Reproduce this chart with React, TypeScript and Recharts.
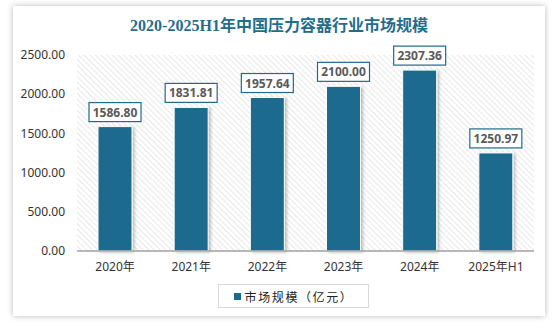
import { Bar, BarChart, CartesianGrid, LabelList, XAxis, YAxis } from "recharts";

const categories = ["2020年", "2021年", "2022年", "2023年", "2024年", "2025年H1"];
const marketSize = [1586.8, 1831.81, 1957.64, 2100.0, 2307.36, 1250.97];
const yTicks = [0, 500, 1000, 1500, 2000, 2500];

const title = "2020-2025H1年中国压力容器行业市场规模";
const seriesName = "市场规模（亿元）";

const BAR_COLOR = "#1c6a8d";
const FONT = "'Noto Sans', 'Noto Sans CJK SC', sans-serif";

const chartData = categories.map((name, i) => ({ name, value: marketSize[i] }));

const ValueLabel = (props: any) => {
    const { x, y, width, value } = props;
    const cx = Number(x) + Number(width) / 2;
    const boxW = 52;
    const boxH = 19;
    const top = Number(y) - 5 - boxH;
    return (
        <g>
            <rect x={cx - boxW / 2} y={top} width={boxW} height={boxH} fill="#fff" stroke="#1f6b8a" strokeWidth={1.2} />
            <text x={cx} y={top + boxH / 2 + 4.5} textAnchor="middle" fill="#595959" fontSize={12} fontWeight={700} fontFamily={FONT}>
                {Number(value).toFixed(2)}
            </text>
        </g>
    );
};

export default function App() {
    return (
        <div style={{ position: "absolute", left: 0, top: 0, width: 558, height: 332, background: "#fff", fontFamily: FONT }}>
            <div
                style={{
                    position: "absolute",
                    left: 13,
                    top: 6,
                    width: 532,
                    height: 310,
                    background: "#fff",
                    boxShadow: "0 0 6px rgba(0,0,0,0.28)",
                }}
            />
            <div
                style={{
                    position: "absolute",
                    left: 13,
                    top: 12,
                    width: 532,
                    textAlign: "center",
                    color: "#1f6e8c",
                    fontSize: 16,
                    fontWeight: 700,
                    fontFamily: "'Liberation Serif', 'Noto Sans CJK SC', serif",
                }}
            >
                {title}
            </div>
            <div style={{ position: "absolute", left: 0, top: 0 }}>
                <BarChart width={558} height={332} data={chartData} margin={{ top: 55, right: 24, left: 0, bottom: 51 }} barCategoryGap="0%">
                    <defs>
                        <pattern id="hatch" width="4" height="4" patternUnits="userSpaceOnUse" patternTransform="rotate(-45)">
                            <rect width="4" height="4" fill="#ffffff" />
                            <line x1="0" y1="0" x2="0" y2="4" stroke="#d9d9d9" strokeWidth={1.2} />
                        </pattern>
                        <filter id="barShadow" x="-20%" y="-20%" width="150%" height="140%">
                            <feDropShadow dx="2" dy="1" stdDeviation="1.5" floodColor="#000" floodOpacity="0.25" />
                        </filter>
                    </defs>
                    <CartesianGrid fill="url(#hatch)" horizontal={false} vertical={false} stroke="none" />
                    <XAxis
                        dataKey="name"
                        axisLine={{ stroke: "#a0a0a0", strokeWidth: 1.5 }}
                        tickLine={false}
                        tickMargin={5}
                        height={30}
                        interval={0}
                        tick={{ fill: "#333", fontSize: 12, fontFamily: FONT }}
                    />
                    <YAxis
                        domain={[0, 2500]}
                        ticks={yTicks}
                        width={77}
                        axisLine={false}
                        tickLine={false}
                        tickMargin={6}
                        tick={{ fill: "#333", fontSize: 12, fontFamily: FONT }}
                        tickFormatter={(v) => Number(v).toFixed(2)}
                    />
                    <Bar
                        dataKey="value"
                        fill={BAR_COLOR}
                        barSize={34}
                        stroke="#ffffff"
                        strokeWidth={1}
                        filter="url(#barShadow)"
                        isAnimationActive={false}
                    >
                        <LabelList dataKey="value" content={ValueLabel} />
                    </Bar>
                </BarChart>
            </div>
            <div
                style={{
                    position: "absolute",
                    left: 218,
                    top: 284,
                    width: 151,
                    height: 24,
                    border: "1px solid #d9d9d9",
                    boxSizing: "border-box",
                    display: "flex",
                    alignItems: "center",
                    justifyContent: "center",
                    gap: 4,
                    background: "#fff",
                }}
            >
                <span style={{ width: 7, height: 7, background: BAR_COLOR, display: "inline-block" }} />
                <span style={{ fontSize: 12, color: "#222", letterSpacing: 1.6, fontFamily: "'Noto Sans CJK SC', sans-serif" }}>{seriesName}</span>
            </div>
        </div>
    );
}
